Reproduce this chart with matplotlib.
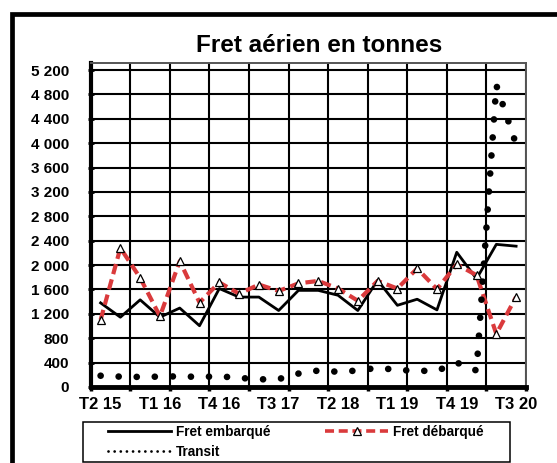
import matplotlib
matplotlib.use("Agg")
import matplotlib.pyplot as plt
import numpy as np
from matplotlib.lines import Line2D
from matplotlib.patches import Rectangle

plt.rcParams['font.family'] = ['Liberation Sans', 'DejaVu Sans']

# trimestres T2 2015 -> T3 2020
quarters = ["T2 15", "T3 15", "T4 15", "T1 16", "T2 16", "T3 16", "T4 16",
            "T1 17", "T2 17", "T3 17", "T4 17", "T1 18", "T2 18", "T3 18",
            "T4 18", "T1 19", "T2 19", "T3 19", "T4 19", "T1 20", "T2 20",
            "T3 20"]

# tonnes
embarque = [1380, 1145, 1430, 1145, 1295, 1005, 1615, 1475, 1475, 1255, 1585,
            1585, 1505, 1255, 1750, 1340, 1440, 1265, 2210, 1775, 2340, 2310]
debarque = [1100, 2280, 1790, 1160, 2065, 1385, 1715, 1530, 1680, 1575, 1700,
            1740, 1615, 1415, 1740, 1615, 1945, 1605, 2010, 1835, 870, 1480]
transit = [185, 170, 165, 170, 175, 165, 175, 150, 125, 130, 220,
           270, 250, 270, 315, 280, 265, 265, 400, 270, 4950, 3980]

yticks = list(range(0, 5201, 400))

W, H = 557, 463
fig = plt.figure(figsize=(W / 100, H / 100), dpi=100)

# cadre exterieur (coupe par l'image)
fig.add_artist(Rectangle((12 / W, -0.1), 1.2, 1 - 14 / H + 0.1,
                         transform=fig.transFigure, fill=False,
                         lw=3.4, ec="black"))

ax = fig.add_axes([90.7 / W, 1 - 387 / H, (526 - 90.7) / W, (387 - 63) / H])

x = np.arange(len(quarters))
ax.plot(x, embarque, color="black", lw=2, zorder=3)
ax.plot(x, debarque, color="#DA3A3C", lw=3, linestyle=(0, (2.5, 1.3)),
        dash_capstyle="butt", marker="^", markersize=5.5,
        markerfacecolor="white", markeredgecolor="black",
        markeredgewidth=0.9, zorder=4)
ax.plot(x, transit, color="black", lw=4.8, linestyle=(0, (0.01, 2.7)),
        dash_capstyle="round", zorder=5)

ax.set_xlim(-0.5, len(quarters) - 0.5)
ax.set_ylim(0, 5315)

ax.set_yticks(yticks)
ax.set_yticklabels([f"{v:,}".replace(",", " ") for v in yticks],
                   fontsize=11, fontweight="bold")
ax.tick_params(axis="y", direction="inout", length=5, width=2, pad=13)

ax.set_xticks(np.arange(-0.5, len(quarters), 2))
ax.set_xticklabels([])
ax.set_xticks(x[::3], [quarters[i] for i in x[::3]], minor=True)
ax.tick_params(axis="x", which="major", direction="out", length=3, width=2.5)
ax.tick_params(axis="x", which="minor", length=0, pad=7, labelsize=12)
for lab in ax.get_xticklabels(minor=True):
    lab.set_fontweight("bold")

ax.grid(True, which="major", color="black", lw=1.5)
ax.set_axisbelow(True)

ax.spines["left"].set_linewidth(3)
ax.spines["bottom"].set_linewidth(3.5)
for s in ["top", "right"]:
    ax.spines[s].set_linewidth(1.4)
    ax.spines[s].set_color("#555555")

fig.text(319 / W, 1 - 45 / H, "Fret aérien en tonnes", ha="center",
         va="center", fontsize=17.5, fontweight="bold")

# legende : cadre dessine a part
fig.add_artist(Rectangle((83 / W, 1 - 462 / H), 427 / W, 40 / H,
                         transform=fig.transFigure, fill=False,
                         lw=1.1, ec="black"))
handles = [
    Line2D([], [], color="black", lw=2),
    Line2D([], [], color="black", lw=2, linestyle=(0, (0.01, 2.2)),
           dash_capstyle="round"),
    Line2D([], [], color="#DA3A3C", lw=2.6, linestyle=(0, (2.5, 1.3)),
           marker="^", markersize=5.5, markerfacecolor="white",
           markeredgecolor="black", markeredgewidth=0.9),
]
labels = ["Fret embarqué", "Transit", "Fret débarqué"]
fig.legend(handles, labels, ncol=2, loc="center", mode="expand",
           bbox_to_anchor=(108 / W, 1 - 462 / H, (484 - 108) / W, 40 / H),
           bbox_transform=fig.transFigure, frameon=False, borderpad=0,
           borderaxespad=0, handlelength=4.6, handletextpad=0.4,
           labelspacing=0.45, prop={"weight": "bold", "size": 9.8})

fig.savefig("out.png", dpi=100)
